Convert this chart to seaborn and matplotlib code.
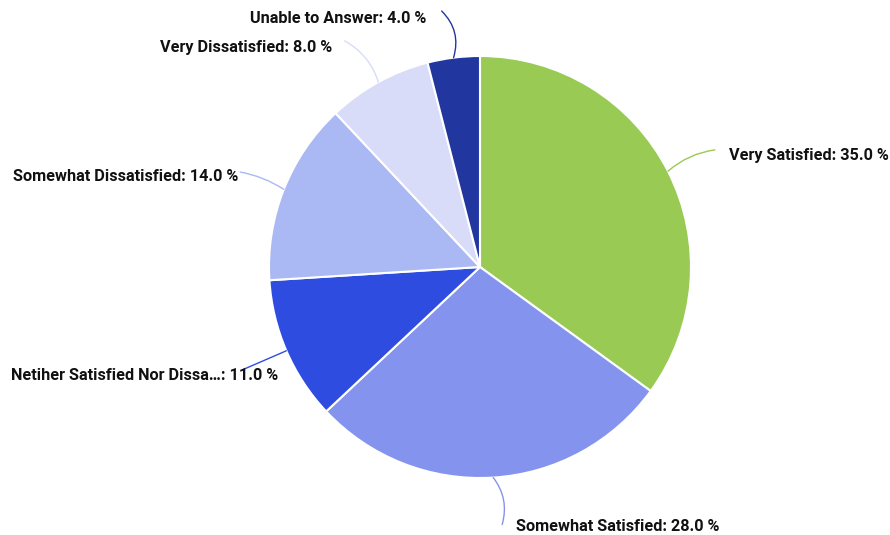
import numpy as np
import matplotlib
matplotlib.use("Agg")
import matplotlib.pyplot as plt
import seaborn as sns

categories = ["Very Satisfied", "Somewhat Satisfied", "Netiher Satisfied Nor Dissa…",
              "Somewhat Dissatisfied", "Very Dissatisfied", "Unable to Answer"]
values = [35.0, 28.0, 11.0, 14.0, 8.0, 4.0]
colors = ["#99ca53", "#8494ee", "#2e4de0", "#aab8f3", "#d8dcf8", "#2236a0"]

sns.set_style("white")
plt.rcParams['font.family'] = ['Roboto', 'DejaVu Sans']

W, H = 890, 535
fig = plt.figure(figsize=(W / 100, H / 100), dpi=100)
ax = fig.add_axes([0, 0, 1, 1])

cx, cy, R = 480, H - 267, 211
wedges, _ = ax.pie(values, colors=colors, startangle=90, counterclock=False,
                   center=(cx, cy), radius=R,
                   wedgeprops=dict(edgecolor="white", linewidth=1.5), frame=True)
ax.set_xlim(0, W)
ax.set_ylim(0, H)
ax.set_aspect("equal")
ax.axis("off")

rads = [0.15, 0.25, 0.0, -0.1, -0.2, -0.3]
elbow_dx = [5, 6, 0, 0, -11, -6]
label_dy = [-6, -2, -6, -4, -7, -7]
gap = [14, 14, 0, 2, 12, 15]
fs = 11.7
for i, (w, lab, v) in enumerate(zip(wedges, categories, values)):
    mid = np.deg2rad((w.theta1 + w.theta2) / 2)
    dx, dy = np.cos(mid), np.sin(mid)
    edge = (cx + R * dx, cy + R * dy)
    elbow = (cx + 258 * dx + elbow_dx[i], cy + 258 * dy)
    txt = f"{lab}: {v:.1f} %"
    ax.annotate("", xy=edge, xytext=elbow,
                arrowprops=dict(arrowstyle="-", color=w.get_facecolor(), lw=1,
                                shrinkA=0, shrinkB=0,
                                connectionstyle=f"arc3,rad={rads[i]}"))
    ty = elbow[1] + label_dy[i]
    kw = dict(va="center", fontsize=fs, fontweight="bold", color="#111111")
    if dx >= 0:
        ax.text(elbow[0] + gap[i], ty, txt, ha="left", **kw)
    elif i == 2:
        ax.text(11, ty, txt, ha="left", **kw)
    else:
        ax.text(elbow[0] - gap[i], ty, txt, ha="right", **kw)

fig.savefig("out.png", dpi=100, facecolor="white")
